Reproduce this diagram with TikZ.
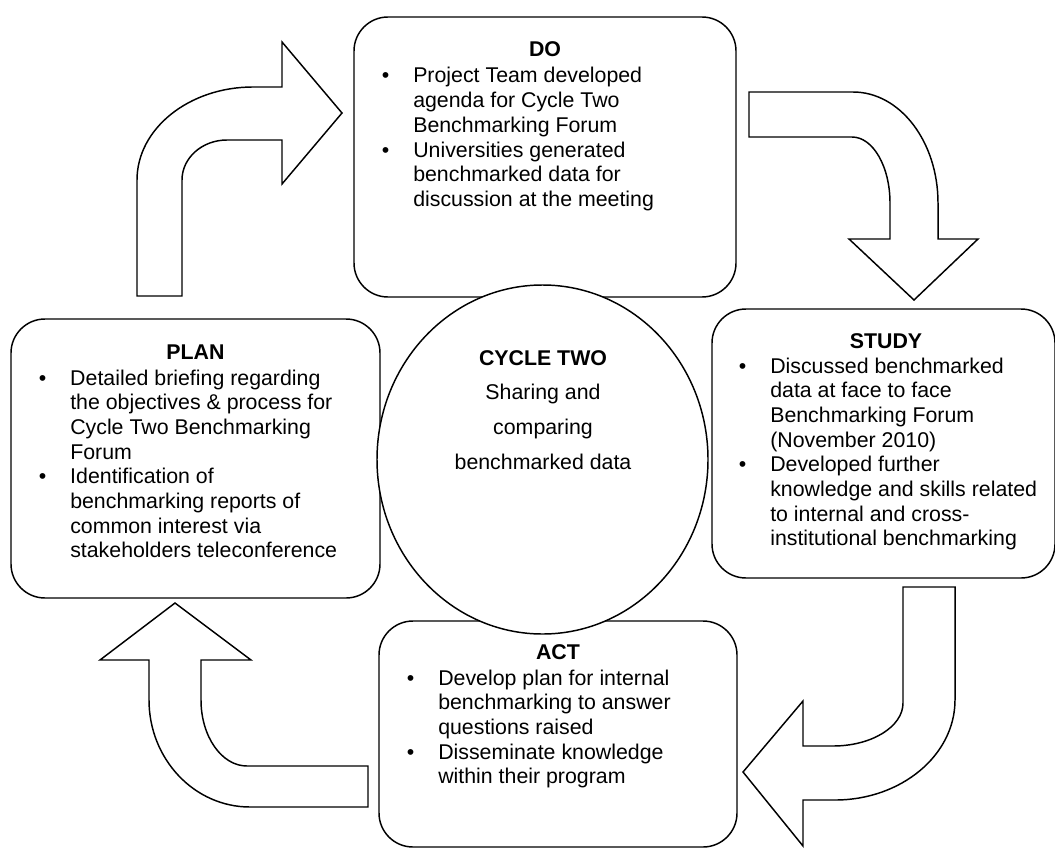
\documentclass[tikz,border=0pt]{standalone}
\usepackage{fontspec}
\setmainfont{Liberation Sans}
\usetikzlibrary{shapes.geometric}
\newcommand{\itm}{\noindent\llap{\textbullet\hspace{18pt}}}
\tikzset{
  box/.style={draw, line width=1.1pt, rounded corners=25.5pt, fill=white, inner sep=0pt, rectangle},
  hub/.style={draw, line width=1.1pt, fill=white, ellipse, inner sep=0pt},
  blockarrow/.style={draw, line width=1.1pt, fill=white, line join=miter},
  boxtitle/.style={anchor=base, inner sep=0pt, font=\fontsize{16}{18.5}\selectfont\bfseries},
  boxlist/.style={anchor=base west, inner sep=0pt, font=\fontsize{16}{18.5}\selectfont},
}
\begin{document}
\begin{tikzpicture}[x=0.75pt, y=-0.75pt]
\useasboundingbox (0,0) rectangle (1055,849);

% block arrows
\draw[blockarrow] (137,296) -- (137,180) .. controls (137,128.7) and (189,87) .. (253,87)
  -- (282,87) -- (282,42) -- (342,113) -- (282,184) -- (282,140) -- (227,140)
  .. controls (202,140) and (182,158) .. (182,180) -- (182,296) -- cycle;
\draw[blockarrow] (749,92) -- (853,92) .. controls (900,92) and (938,141.7) .. (938,203)
  -- (938,239) -- (978,239) -- (914,300) -- (849,239) -- (890,239) -- (890,203)
  .. controls (890,166.6) and (873,137) .. (852,137) -- (749,137) -- cycle;
\draw[blockarrow] (903,587) -- (955,587) -- (955,700) .. controls (955,755.2) and (901.2,800) .. (835,800)
  -- (803,800) -- (803,846) -- (743,772) -- (803,701) -- (803,746) -- (833,746)
  .. controls (871.6,746) and (903,726.7) .. (903,703) -- cycle;
\draw[blockarrow] (368,766) -- (368,807) -- (250,807) .. controls (194.2,807) and (149,759) .. (149,700)
  -- (149,660) -- (100,660) -- (175,603) -- (251,660) -- (201,660) -- (201,700)
  .. controls (201,736.4) and (221.6,766) .. (247,766) -- cycle;

% boxes
\node[box, minimum width=286.5pt, minimum height=210pt] (do) at (545,157) {};
\node[box, minimum width=276.75pt, minimum height=209.25pt] (plan) at (195.5,458.5) {};
\node[box, minimum width=257.25pt, minimum height=201.75pt] (study) at (883.5,443.5) {};
\node[box, minimum width=268.5pt, minimum height=169.5pt] (act) at (558,734) {};
\node[hub, minimum width=248.25pt, minimum height=261.75pt] (cycle) at (542.5,459.5) {};

% titles
\node[boxtitle] (dotitle) at (545,56) {DO};
\node[boxtitle] (plantitle) at (195.5,359) {PLAN};
\node[boxtitle] (studytitle) at (886,348) {STUDY};
\node[boxtitle] (acttitle) at (558,659) {ACT};

% lists
\node[boxlist] (dolist) at (413,83) {\parbox[t]{220pt}{\raggedright\parskip=0pt
\itm Project Team developed\\agenda for Cycle Two\\Benchmarking Forum\par
\itm Universities generated\\benchmarked data for\\discussion at the meeting}};
\node[boxlist] (planlist) at (70,385) {\parbox[t]{220pt}{\raggedright\parskip=0pt
\itm Detailed briefing regarding\\the objectives \& process for\\Cycle Two Benchmarking\\Forum\par
\itm Identification of\\benchmarking reports of\\common interest via\\stakeholders teleconference}};
\node[boxlist] (studylist) at (770,373) {\parbox[t]{220pt}{\raggedright\parskip=0pt
\itm Discussed benchmarked\\data at face to face\\Benchmarking Forum\\(November 2010)\par
\itm Developed further\\knowledge and skills related\\to internal and cross-\\institutional benchmarking}};
\node[boxlist] (actlist) at (438,685) {\parbox[t]{220pt}{\raggedright\parskip=0pt
\itm Develop plan for internal\\benchmarking to answer\\questions raised\par
\itm Disseminate knowledge\\within their program}};

% centre text
\node[anchor=base, inner sep=0pt] (cycletext) at (543,365) {\parbox[t]{220pt}{\centering\fontsize{16}{26}\selectfont
\textbf{CYCLE TWO}\\Sharing and\\comparing\\benchmarked data}};
\end{tikzpicture}
\end{document}
